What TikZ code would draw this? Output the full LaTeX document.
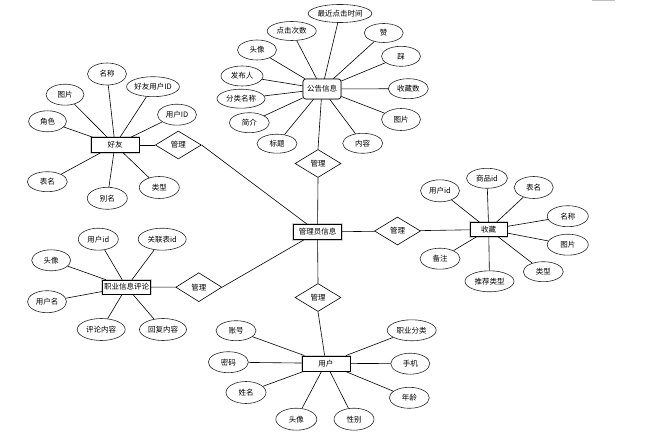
\documentclass[tikz,border=0pt]{standalone}
\usepackage{fontspec}
\newfontfamily\cjk{Noto Sans CJK SC}
\usetikzlibrary{shapes.geometric}

\begin{document}
\begin{tikzpicture}[x=1pt,y=-1pt,line width=.6pt,
    attr/.style={ellipse,draw=black!85,inner sep=0pt,minimum width=40pt,minimum height=21pt,font=\cjk\fontsize{7.5}{9}\selectfont},
    ent/.style={rectangle,draw,fill=white,inner sep=1pt,minimum width=48pt,minimum height=15pt,preaction={draw=black!18,line width=2.2pt},font=\cjk\fontsize{7.5}{9}\selectfont},
    rel/.style={diamond,draw,fill=white,inner sep=0pt,minimum width=46pt,minimum height=28pt,font=\cjk\fontsize{7.5}{9}\selectfont}]
      \useasboundingbox (0,0) rectangle (648,438);
      \draw[black!25,line width=1.5pt] (592,.75) -- (615,.75);

      \node (gly) at (317.5,232) [ent] {管理员信息};

      \node (gg) at (322,89) [ent,rounded corners=3pt,minimum width=38pt,minimum height=20pt] {公告信息};
      \node (gg1) at (340,13.5) [attr,minimum width=62pt,minimum height=18pt] {最近点击时间};
      \node (gg2) at (291.7,31) [attr,minimum width=49pt,minimum height=19pt] {点击次数};
      \node (gg3) at (257,50) [attr,minimum width=39pt,minimum height=20pt] {头像};
      \node (gg4) at (242,76) [attr,minimum width=42pt,minimum height=20pt] {发布人};
      \node (gg5) at (241,98.7) [attr,minimum width=48pt,minimum height=19pt] {分类名称};
      \node (gg6) at (249.3,122.7) [attr,minimum height=20pt] {简介};
      \node (gg7) at (277,143.7) [attr,minimum height=19pt] {标题};
      \node (gg8) at (362.7,143.3) [attr,minimum height=20pt] {内容};
      \node (gg9) at (401,119.5) [attr,minimum width=39pt,minimum height=22pt] {图片};
      \node (gg10) at (408.3,88.7) [attr,minimum height=20pt] {收藏数};
      \node (gg11) at (401,56.3) [attr,minimum width=39pt,minimum height=20pt] {踩};
      \node (gg12) at (383.7,33) [attr,minimum width=39pt,minimum height=19pt] {赞};
      \node (r1) at (318,163.5) [rel] {管理};

      \node (hy) at (115,145) [ent] {好友};
      \node (hy1) at (107,74) [attr,minimum width=39pt,minimum height=22pt] {名称};
      \node (hy2) at (65,94.7) [attr,minimum width=38pt] {图片};
      \node (hy3) at (153,86.7) [attr,minimum width=47pt,minimum height=20pt] {好友用户ID};
      \node (hy4) at (177,114.7) [attr,minimum width=39pt] {用户ID};
      \node (hy5) at (47.5,121.3) [attr,minimum width=38pt] {角色};
      \node (hy6) at (47.3,181.7) [attr,minimum height=20pt] {表名};
      \node (hy7) at (107.3,198.3) [attr,minimum height=22pt] {别名};
      \node (hy8) at (159.3,187.5) [attr,minimum height=22pt] {类型};
      \node (r4) at (178.3,145) [rel] {管理};

      \node (sc) at (488.7,229.5) [ent,minimum width=37pt,minimum height=14pt] {收藏};
      \node (sc1) at (440,190.8) [attr,minimum width=39pt,minimum height=22pt] {用户id};
      \node (sc2) at (487,178.3) [attr,minimum width=41pt,minimum height=20pt] {商品id};
      \node (sc3) at (533.7,187.5) [attr,minimum width=39pt,minimum height=22pt] {表名};
      \node (sc4) at (567.8,216.2) [attr,minimum width=41pt] {名称};
      \node (sc5) at (567.8,244.7) [attr,minimum width=41pt] {图片};
      \node (sc6) at (543.3,271.7) [attr,minimum height=20pt] {类型};
      \node (sc7) at (489.5,281.3) [attr,minimum width=49pt] {推荐类型};
      \node (sc8) at (440,258.7) [attr] {备注};
      \node (r2) at (397.5,231) [rel] {管理};

      \node (pl) at (126.5,287) [ent,minimum height=14pt] {职业信息评论};
      \node (pl1) at (98.3,239.2) [attr,minimum height=22pt] {用户id};
      \node (pl2) at (162.2,239.2) [attr,minimum width=48pt,minimum height=22pt] {关联表id};
      \node (pl3) at (51.2,260.3) [attr,minimum width=39pt] {头像};
      \node (pl4) at (47,301.7) [attr,minimum width=39pt,minimum height=22pt] {用户名};
      \node (pl5) at (101.2,329.5) [attr,minimum width=48pt,minimum height=22pt] {评论内容};
      \node (pl6) at (163,329.5) [attr,minimum width=47pt,minimum height=22pt] {回复内容};
      \node (r5) at (198.8,287.2) [rel,minimum height=29pt] {管理};

      \node (yh) at (325.8,363.3) [ent] {用户};
      \node (yh1) at (236,330.7) [attr,minimum height=20pt] {账号};
      \node (yh2) at (228.3,362.2) [attr] {密码};
      \node (yh3) at (246,392.5) [attr,minimum height=22pt] {姓名};
      \node (yh4) at (296.3,419.2) [attr,minimum width=41pt,minimum height=22pt] {头像};
      \node (yh5) at (354,419.2) [attr,minimum height=22pt] {性别};
      \node (yh6) at (409.3,397.8) [attr] {年龄};
      \node (yh7) at (410.3,363.7) [attr,minimum width=39pt] {手机};
      \node (yh8) at (411.7,330.3) [attr,minimum width=49pt] {职业分类};
      \node (r3) at (318,297.5) [rel] {管理};

      \path (gg) edge (gg1) edge (gg2) edge (gg3) edge (gg4) edge (gg5) edge (gg6)
                 edge (gg7) edge (gg8) edge (gg9) edge (gg10) edge (gg11) edge (gg12)
                 edge (r1.north);
      \path (hy) edge (hy1) edge (hy2) edge (hy3) edge (hy4) edge (hy5) edge (hy6)
                 edge (hy7) edge (hy8) edge (r4);
      \path (sc) edge (sc1) edge (sc2) edge (sc3) edge (sc4) edge (sc5) edge (sc6)
                 edge (sc7) edge (sc8) edge (r2);
      \path (pl) edge (pl1) edge (pl2) edge (pl3) edge (pl4) edge (pl5) edge (pl6)
                 edge (r5);
      \path (yh) edge (yh1) edge (yh2) edge (yh3) edge (yh4) edge (yh5) edge (yh6)
                 edge (yh7) edge (yh8) edge (r3.south);
      \path (gly) edge (r1.south) edge (r2) edge (r3.north) edge (r4.east) edge (r5.east);

    \end{tikzpicture}
\end{document}
